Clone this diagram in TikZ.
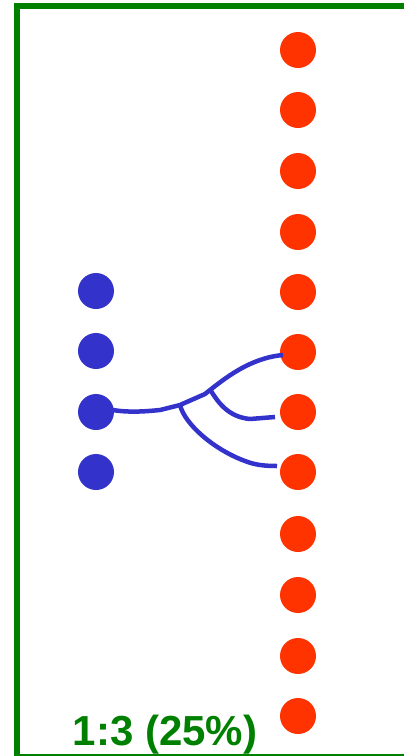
\documentclass[tikz,border=0pt]{standalone}
\usepackage{fontspec}
\setmainfont{Liberation Sans}
\definecolor{fgreen}{HTML}{008000}
\definecolor{dblue}{HTML}{3333CC}
\definecolor{dred}{HTML}{FF3300}
\begin{document}
\begin{tikzpicture}[x=1pt,y=-1pt,
  reddot/.style={circle,fill=dred,minimum size=36pt,inner sep=0pt},
  bluedot/.style={circle,fill=dblue,minimum size=36pt,inner sep=0pt},
  wire/.style={draw=dblue,line width=4.5pt,line join=round}]
\useasboundingbox (0,0) rectangle (404,756);
\clip (0,0) rectangle (404,756);
\draw[fgreen,line width=6pt] (17,6) rectangle (420,757);
\foreach \i/\y in {1/50,2/110,3/171,4/232,5/292,6/352,7/412,8/472,9/534,10/595,11/656,12/716}
  \node[reddot] (r\i) at (298,\y) {};
\foreach \i/\y in {1/291,2/351,3/412,4/472}
  \node[bluedot] (b\i) at (96,\y) {};
\coordinate (j1) at (180,405);
\coordinate (j2) at (205,394);
\coordinate (j3) at (211,391);
\coordinate (e1) at (283,355);
\coordinate (e2) at (275,417);
\coordinate (e3) at (277,466);
\draw[wire] (b3.center) ++(17,-2) .. controls (130,413) and (150,411) .. (160,410)
  -- (j1) -- (j2) .. controls (225,378) and (250,358) .. (e1);
\draw[wire] (j3) .. controls (218,402) and (228,417) .. (250,419) -- (e2);
\draw[wire] (j1) .. controls (185,425) and (215,450) .. (245,461) .. controls (255,465) and (265,466) .. (e3);
\node[text=fgreen,font=\bfseries\fontsize{42}{42}\selectfont,anchor=base] (lbl) at (165,745) {1:3 (25\%)};
\end{tikzpicture}
\end{document}
